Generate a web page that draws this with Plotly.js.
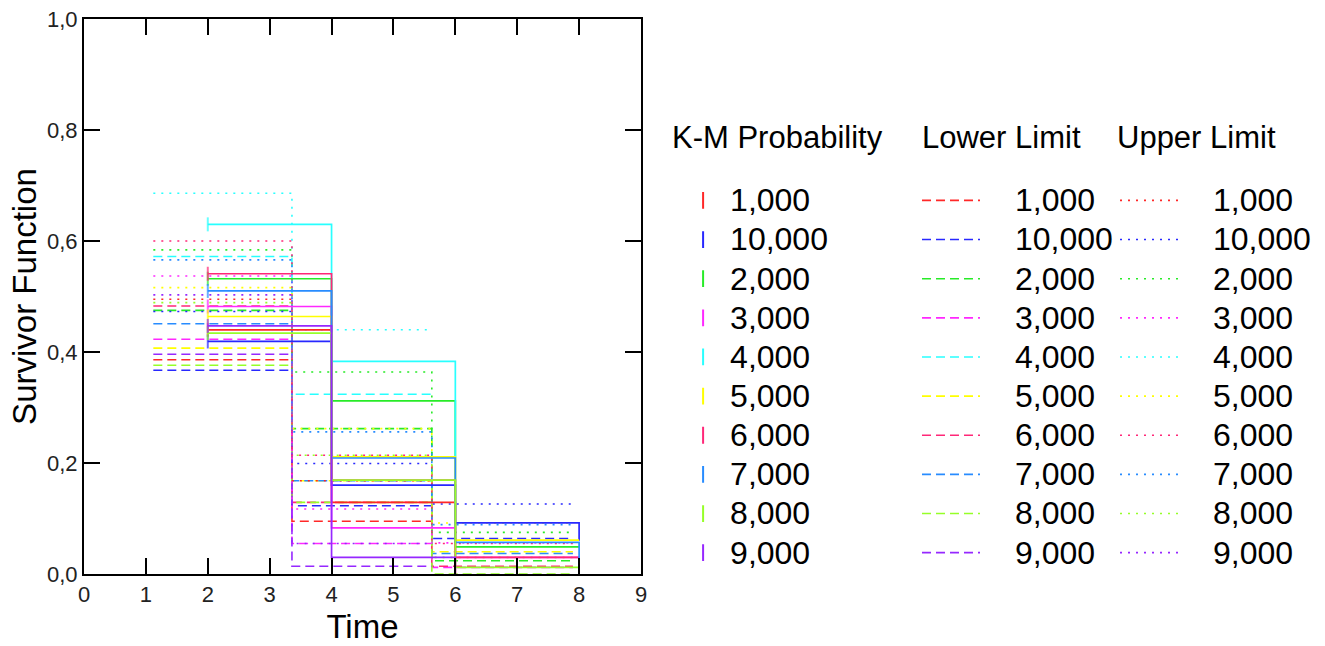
<!DOCTYPE html>
<html>
<head>
<meta charset="utf-8">
<script src="https://cdn.plot.ly/plotly-3.0.1.min.js"></script>
<style>html,body{margin:0;padding:0;background:#fff;}#chart{width:1325px;height:646px;}</style>
</head>
<body>
<div id="chart"></div>
<script>
// ---- data ----
const groups = ['1,000','10,000','2,000','3,000','4,000','5,000','6,000','7,000','8,000','9,000'];
const colors = ['rgb(255,40,40)','rgb(40,40,255)','rgb(40,235,40)','rgb(255,40,255)','rgb(40,255,255)',
                'rgb(255,255,0)','rgb(255,40,120)','rgb(40,140,255)','rgb(150,255,40)','rgb(150,40,255)'];
const kmTimes = [2, 4, 6, 8];
const ciTimes = [1.12, 3.36, 5.62, 7.9];
// K-M probability levels per group (step values starting at kmTimes)
const kmProbability = [
  [0.440, 0.129, 0.000],
  [0.419, 0.160, 0.092, 0.060],
  [0.532, 0.312, 0.049, 0.049],
  [0.482, 0.083, 0.030, 0.030],
  [0.630, 0.383, 0.210],
  [0.464, 0.211, 0.061, 0.061],
  [0.541, 0.169, 0.030, 0.030],
  [0.510, 0.209, 0.057, 0.000],
  [0.434, 0.169, 0.012, 0.000],
  [0.447, 0.030, 0.000]
];
// lower / upper confidence limits per group (step values starting at ciTimes)
const lowerLimit = [
  [0.386, 0.095],
  [0.367, 0.123, 0.064],
  [0.475, 0.262, 0.024],
  [0.423, 0.055, 0.012],
  [0.572, 0.324],
  [0.407, 0.168, 0.040],
  [0.483, 0.129, 0.014],
  [0.451, 0.168, 0.037],
  [0.376, 0.129, 0.000],
  [0.396, 0.014]
];
const upperLimit = [
  [0.495, 0.168],
  [0.473, 0.199, 0.126],
  [0.584, 0.364, 0.075],
  [0.537, 0.117, 0.056],
  [0.686, 0.440],
  [0.516, 0.262, 0.092],
  [0.600, 0.214, 0.055],
  [0.566, 0.256, 0.089],
  [0.489, 0.214, 0.030],
  [0.503, 0.055]
];
const xTicks = [0,1,2,3,4,5,6,7,8,9];
const yTicks = [0,0.2,0.4,0.6,0.8,1.0];

// ---- traces ----
const FONT = 'Liberation Sans, Arial, sans-serif';
const big = s => '<span style="font-size:32px">' + s + '</span>';
const spaced = s => '<span style="font-size:36px">&nbsp;&nbsp;&nbsp;</span>' + big(s);
const traces = [];
function ciTrace(vals, i, dash, legendId) {
  return {
    x: ciTimes.slice(0, vals.length + 1),
    y: vals.concat([vals[vals.length - 1]]),
    type: 'scatter', mode: 'lines', line: {shape: 'hv', color: colors[i], width: 1.6, dash: dash},
    name: spaced(groups[i]), legend: legendId, showlegend: true, hoverinfo: 'skip'
  };
}
groups.forEach((g, i) => traces.push(ciTrace(lowerLimit[i], i, '9px,5px', 'legend2')));
groups.forEach((g, i) => traces.push(ciTrace(upperLimit[i], i, '2px,6px', 'legend3')));
groups.forEach((g, i) => {
  const v = kmProbability[i];
  traces.push({
    x: kmTimes.slice(0, v.length), y: v, type: 'scatter', mode: 'lines+markers',
    line: {shape: 'hv', color: colors[i], width: 1.7},
    marker: {symbol: 'line-ns-open', size: v.map((_, k) => k === 0 ? 10 : 0), color: colors[i], line: {width: 2, color: colors[i]}},
    name: g, showlegend: false, hoverinfo: 'skip'
  });
});
// legend entries for K-M probability (vertical tick symbol)
groups.forEach((g, i) => traces.push({
  x: [null], y: [null], type: 'scatter', mode: 'markers',
  marker: {symbol: 'line-ns-open', size: 12, color: colors[i], line: {width: 2, color: colors[i]}},
  name: big(g), legend: 'legend', showlegend: true, hoverinfo: 'skip'
}));

const axisCommon = {
  showline: true, linecolor: '#000', linewidth: 2, mirror: 'allticks',
  ticks: 'inside', ticklen: 16, tickwidth: 2, tickcolor: '#000',
  showgrid: false, zeroline: false,
  tickfont: {family: FONT, size: 22, color: '#222'}
};
const legendCommon = {
  orientation: 'v', xanchor: 'left', yanchor: 'top', bgcolor: 'rgba(0,0,0,0)', borderwidth: 0,
  font: {family: FONT, size: 27.8, color: '#000'}, tracegroupgap: 0
};
const layout = {
  width: 1325, height: 646,
  margin: {l: 84, r: 684, t: 19, b: 72, pad: 0, autoexpand: false},
  paper_bgcolor: '#fff', plot_bgcolor: '#fff',
  separators: ', ',
  showlegend: true,
  xaxis: Object.assign({}, axisCommon, {range: [0, 9], tickvals: xTicks, tickformat: 'd',
    title: {text: 'Time', font: {family: FONT, size: 33, color: '#000'}, standoff: 8}}),
  yaxis: Object.assign({}, axisCommon, {range: [0, 1], tickvals: yTicks, tickformat: '.1f',
    title: {text: 'Survivor Function', font: {family: FONT, size: 33, color: '#000'}, standoff: 0}}),
  legend: Object.assign({}, legendCommon, {x: 1.063, y: 0.7174, itemwidth: 44}),
  legend2: Object.assign({}, legendCommon, {x: 1.4955, y: 0.7174, itemwidth: 58}),
  legend3: Object.assign({}, legendCommon, {x: 1.851, y: 0.7174, itemwidth: 58}),
  annotations: [
    {text: 'K-M Probability', x: 1.052, y: 0.787},
    {text: 'Lower Limit', x: 1.501, y: 0.787},
    {text: 'Upper Limit', x: 1.851, y: 0.787}
  ].map(a => Object.assign(a, {xref: 'paper', yref: 'paper', xanchor: 'left', yanchor: 'middle',
    showarrow: false, font: {family: FONT, size: 31, color: '#000'}}))
};
Plotly.newPlot('chart', traces, layout, {displayModeBar: false, staticPlot: true});
</script>
</body>
</html>
